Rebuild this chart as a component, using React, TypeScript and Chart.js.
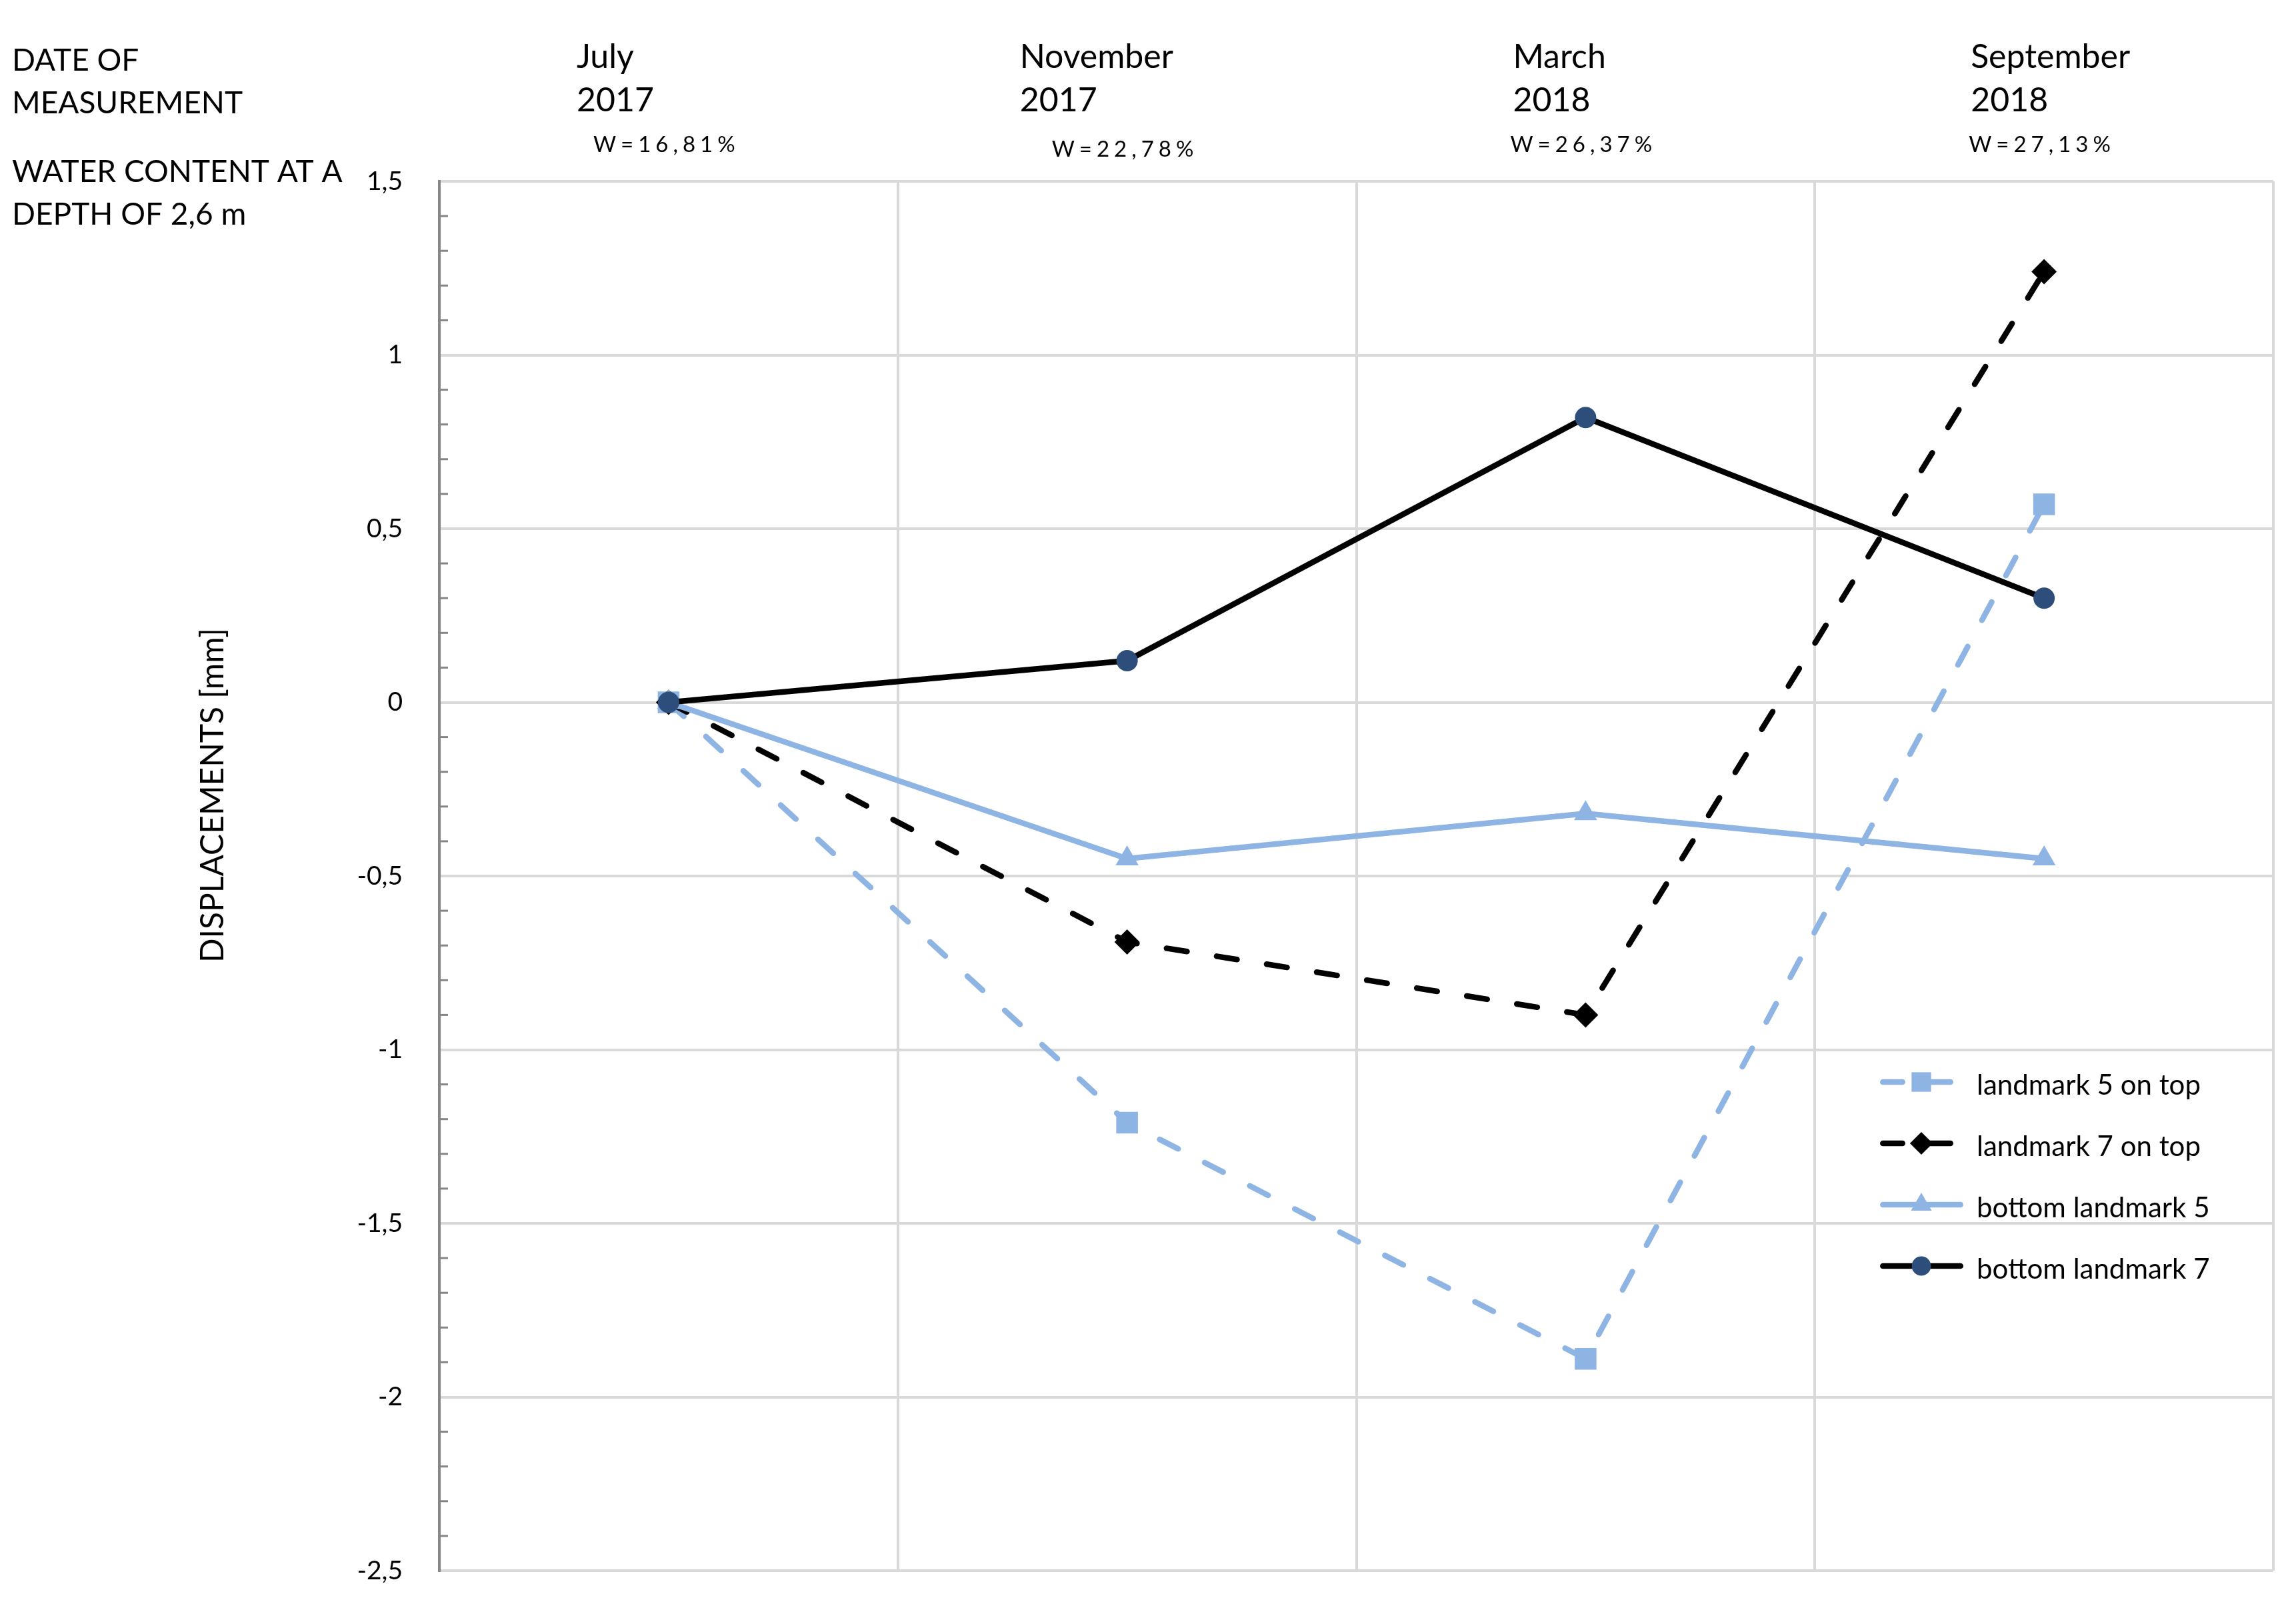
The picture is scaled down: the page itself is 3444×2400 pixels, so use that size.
import React, { useEffect, useRef } from 'react';
import { Chart, registerables } from 'chart.js';

Chart.register(...registerables);

// ---------- data ----------
const months = ['July', 'November', 'March', 'September'];
const years = ['2017', '2017', '2018', '2018'];
const waterContent = ['W=16,81%', 'W=22,78%', 'W=26,37%', 'W=27,13%'];
const seriesNames = ['landmark 5 on top', 'landmark 7 on top', 'bottom landmark 5', 'bottom landmark 7'];
const landmark5Top = [0, -1.21, -1.89, 0.57];
const landmark7Top = [0, -0.69, -0.9, 1.24];
const bottomLandmark5 = [0, -0.45, -0.32, -0.45];
const bottomLandmark7 = [0, 0.12, 0.82, 0.3];
const yMin = -2.5;
const yMax = 1.5;
const yStep = 0.5;
const yMinorStep = 0.1;
const headerLines = ['DATE OF', 'MEASUREMENT'];
const waterLines = ['WATER CONTENT AT A', 'DEPTH OF 2,6 m'];
const yTitle = 'DISPLACEMENTS [mm]';

const LIGHT = '#8EB4E3';
const DARK = '#000000';
const NAVY = '#2D4E7A';
const FONT = 'Lato, "Open Sans", sans-serif';
const LW = 8.5;

function fmt(v: number): string {
  const r = Math.round(v * 10) / 10;
  return String(r).replace('.', ',');
}

function drawMarker(ctx: CanvasRenderingContext2D, style: string, x: number, y: number, r: number, color: string) {
  ctx.save();
  ctx.fillStyle = color;
  ctx.beginPath();
  if (style === 'rect') {
    const s = r * Math.SQRT1_2;
    ctx.rect(x - s, y - s, 2 * s, 2 * s);
  } else if (style === 'rectRot') {
    ctx.moveTo(x, y - r);
    ctx.lineTo(x + r, y);
    ctx.lineTo(x, y + r);
    ctx.lineTo(x - r, y);
    ctx.closePath();
  } else if (style === 'triangle') {
    for (let k = 0; k < 3; k++) {
      const a = (k * 2 * Math.PI) / 3;
      const px = x + Math.sin(a) * r;
      const py = y - Math.cos(a) * r;
      if (k === 0) ctx.moveTo(px, py);
      else ctx.lineTo(px, py);
    }
    ctx.closePath();
  } else {
    ctx.arc(x, y, r, 0, Math.PI * 2);
  }
  ctx.fill();
  ctx.restore();
}

function spacedText(ctx: CanvasRenderingContext2D, text: string, x: number, y: number, sp: number) {
  let cx = x;
  for (const ch of text) {
    ctx.fillText(ch, cx, y);
    cx += ctx.measureText(ch).width + sp;
  }
}

const decorPlugin = {
  id: 'decor',
  beforeDatasetsDraw(chart: any) {
    const { ctx, chartArea } = chart;
    const ys = chart.scales.y;
    ctx.save();
    ctx.strokeStyle = '#868686';
    ctx.lineWidth = 3;
    const n = Math.round((yMax - yMin) / yMinorStep);
    const per = Math.round(yStep / yMinorStep);
    for (let k = 0; k <= n; k++) {
      if (k % per === 0) continue;
      const v = yMin + k * yMinorStep;
      const py = ys.getPixelForValue(v);
      ctx.beginPath();
      ctx.moveTo(chartArea.left, py);
      ctx.lineTo(chartArea.left + 13, py);
      ctx.stroke();
    }
    ctx.restore();
  },
  afterDraw(chart: any) {
    const { ctx, chartArea } = chart;
    const xs = chart.scales.x;
    ctx.save();
    ctx.fillStyle = '#000';
    ctx.textAlign = 'left';
    ctx.textBaseline = 'alphabetic';

    // top-left annotations
    ctx.font = `46px ${FONT}`;
    ctx.fillText(headerLines[0], 18, 106);
    ctx.fillText(headerLines[1], 18, 170);
    ctx.fillText(waterLines[0], 18, 273);
    ctx.fillText(waterLines[1], 18, 337);

    // category labels (top)
    const dateDx = [-138, -161, -109, -110];
    months.forEach((m, i) => {
      const px = xs.getPixelForValue(i);
      ctx.font = `50px ${FONT}`;
      ctx.fillText(m, px + dateDx[i], 102);
      ctx.fillText(years[i], px + dateDx[i], 167);
      ctx.font = `33px ${FONT}`;
      spacedText(ctx, waterContent[i], px - 113, i === 1 ? 235 : 228, 7);
    });

    // y title
    ctx.save();
    ctx.translate(320, chartArea.top + 921);
    ctx.rotate(-Math.PI / 2);
    ctx.textAlign = 'center';
    ctx.textBaseline = 'middle';
    ctx.font = `48px ${FONT}`;
    ctx.fillText(yTitle, 0, 0);
    ctx.restore();

    // legend
    const x0 = chartArea.right - 590;
    const row0 = chartArea.top + 1351;
    const gap = 92;
    chart.data.datasets.forEach((ds: any, i: number) => {
      const yy = row0 + i * gap;
      const w = ds.borderWidth;
      ctx.strokeStyle = ds.borderColor;
      ctx.lineWidth = w;
      ctx.lineCap = 'round';
      const seg = (a: number, b: number) => {
        ctx.beginPath();
        ctx.moveTo(x0 + a + w / 2, yy);
        ctx.lineTo(x0 + b - w / 2, yy);
        ctx.stroke();
      };
      if (ds.borderDash && ds.borderDash.length) {
        seg(0, 38);
        seg(52, 110);
      } else {
        seg(0, 125);
      }
      drawMarker(ctx, ds.pointStyle, x0 + 62, yy, ds.pointRadius * 0.9, ds.pointBackgroundColor);
      ctx.fillStyle = '#000';
      ctx.font = `42px ${FONT}`;
      ctx.textAlign = 'left';
      ctx.fillText(ds.label, x0 + 145, yy + 19);
    });
    ctx.restore();
  },
};

export default function App() {
  const ref = useRef<HTMLCanvasElement | null>(null);

  useEffect(() => {
    let chart: Chart | null = null;
    let cancelled = false;
    document.body.style.margin = '0';

    const build = () => {
      if (cancelled || !ref.current) return;
      Chart.defaults.font.family = FONT;
      chart = new Chart(ref.current, {
        type: 'line',
        data: {
          labels: months,
          datasets: [
            {
              label: seriesNames[0],
              data: landmark5Top,
              borderColor: LIGHT,
              backgroundColor: LIGHT,
              borderWidth: LW,
              borderDash: [31, 45],
              borderCapStyle: 'round',
              pointStyle: 'rect',
              pointRadius: 23,
              pointBackgroundColor: LIGHT,
              pointBorderWidth: 0,
              tension: 0,
              order: 4,
            },
            {
              label: seriesNames[1],
              data: landmark7Top,
              borderColor: DARK,
              backgroundColor: DARK,
              borderWidth: LW,
              borderDash: [31, 45],
              borderCapStyle: 'round',
              pointStyle: 'rectRot',
              pointRadius: 19,
              pointBackgroundColor: DARK,
              pointBorderWidth: 0,
              tension: 0,
              order: 3,
            },
            {
              label: seriesNames[2],
              data: bottomLandmark5,
              borderColor: LIGHT,
              backgroundColor: LIGHT,
              borderWidth: LW,
              pointStyle: 'triangle',
              pointRadius: 20,
              pointBackgroundColor: LIGHT,
              pointBorderWidth: 0,
              tension: 0,
              order: 2,
            },
            {
              label: seriesNames[3],
              data: bottomLandmark7,
              borderColor: DARK,
              backgroundColor: NAVY,
              borderWidth: LW,
              pointStyle: 'circle',
              pointRadius: 16,
              pointBackgroundColor: NAVY,
              pointBorderWidth: 0,
              tension: 0,
              order: 1,
            },
          ],
        },
        options: {
          animation: false,
          responsive: false,
          devicePixelRatio: 1,
          layout: { padding: { left: 0, right: 34, top: 272, bottom: 44 } },
          plugins: {
            legend: { display: false },
            tooltip: { enabled: false },
            title: { display: false },
          },
          scales: {
            x: {
              type: 'category',
              offset: true,
              grid: {
                offset: true,
                drawTicks: false,
                lineWidth: 4,
                color: (c: any) => (c.index === 0 ? 'rgba(0,0,0,0)' : '#D9D9D9'),
              },
              border: { display: false },
              ticks: { display: false },
              afterFit: (s: any) => {
                s.height = 0;
              },
            },
            y: {
              min: yMin,
              max: yMax,
              ticks: {
                stepSize: yStep,
                color: '#000',
                padding: 0,
                font: { size: 39, family: FONT },
                callback: (v: any) => fmt(Number(v)),
              },
              grid: {
                color: '#D9D9D9',
                lineWidth: 4,
                drawTicks: true,
                tickLength: 55,
                tickColor: 'rgba(0,0,0,0)',
              },
              border: { display: true, color: '#868686', width: 4 },
              afterFit: (s: any) => {
                s.width = 659;
              },
            },
          },
        },
        plugins: [decorPlugin],
      } as any);
    };

    const fonts: any = (document as any).fonts;
    if (fonts && fonts.load) {
      Promise.all([fonts.load(`48px Lato`), fonts.load(`33px Lato`)])
        .catch(() => null)
        .then(build);
    } else {
      build();
    }

    return () => {
      cancelled = true;
      if (chart) chart.destroy();
    };
  }, []);

  return (
    <div style={{ position: 'absolute', left: 0, top: 0, width: 3444, height: 2400, background: '#fff' }}>
      <canvas ref={ref} width={3444} height={2400} style={{ width: 3444, height: 2400, display: 'block' }} />
    </div>
  );
}
